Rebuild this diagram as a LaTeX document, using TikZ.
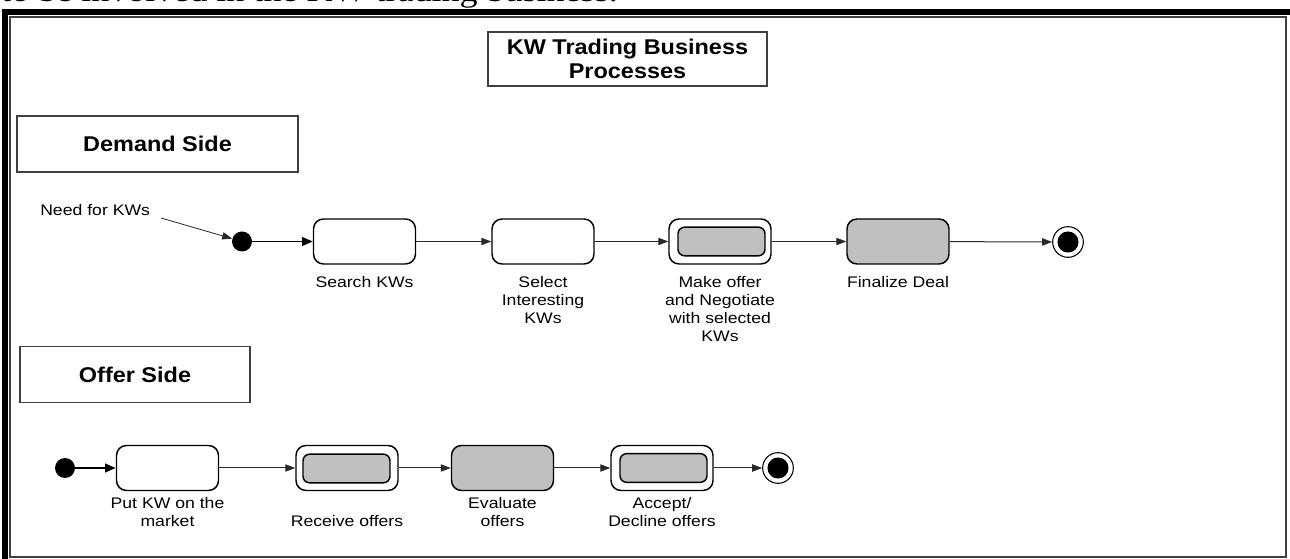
\documentclass[tikz,border=0pt]{standalone}
\usepackage{fontspec}
\setmainfont[FakeStretch=1.15]{Liberation Sans}
\newfontfamily\headfont[FakeStretch=1.1]{Liberation Sans}
\newfontfamily\introfont[FakeStretch=1.15]{Liberation Serif}
\usetikzlibrary{arrows.meta}
\definecolor{actgrey}{RGB}{192,192,192}
\definecolor{edgegrey}{RGB}{64,64,64}
\definecolor{linegrey}{RGB}{40,40,40}
\tikzset{
  actstate/.style={draw,line width=1.1pt,rounded corners=7.5pt,minimum width=76.5pt,minimum height=33.75pt,inner sep=0pt},
  subact/.style={draw,fill=actgrey,line width=1.1pt,rounded corners=5pt,minimum width=65.25pt,minimum height=21.5pt,inner sep=0pt},
  startdot/.style={circle,fill=black,minimum size=15pt,inner sep=0pt},
  enddot/.style={circle,draw,line width=0.8pt,minimum size=23pt,inner sep=0pt},
  headbox/.style={draw=edgegrey,line width=1.4pt,inner sep=0pt,align=center,font=\headfont\bfseries\fontsize{16}{18}\selectfont},
  lbl/.style={inner sep=0pt,anchor=north,align=center,font=\fontsize{11.5}{13.5}\selectfont},
  flow/.style={linegrey,line width=0.75pt,-{Triangle[length=7.5pt,width=5.5pt]}},
  startflow/.style={black,line width=1.4pt,-{Triangle[length=8pt,width=6.5pt]}}
}
\begin{document}
\begin{tikzpicture}[x=0.75pt,y=-0.75pt]
\useasboundingbox (0,0) rectangle (1290,559);
\clip (0,0) rectangle (1290,559);
% Text above the frame (cut off at the top)
\node[anchor=base west,inner sep=0pt,font=\introfont\fontsize{23.5}{26}\selectfont] (intro) at (1,2) {to be involved in the KW trading business.};
% Frame
\draw[line width=4.5pt] (5.3,570) -- (5.3,12) -- (1300,12);
\draw[edgegrey,line width=1.5pt] (10,17.5) rectangle (1285.5,557);

% Headings
\node[headbox,minimum width=209.25pt,minimum height=40.5pt] (title) at (627.5,59) {KW Trading Business\\Processes};
\node[headbox,minimum width=210.75pt,minimum height=42pt] (demand) at (157.5,144) {Demand Side};
\node[headbox,minimum width=172.5pt,minimum height=42pt] (offer) at (135,374.5) {Offer Side};

% Demand side
\node[anchor=base west,inner sep=0pt,font=\fontsize{11.5}{13.5}\selectfont] (need) at (40,216) {Need for KWs};
\coordinate (needtail) at (161,218);
\node[startdot] (start1) at (242,241.5) {};
\node[actstate] (search) at (364.5,241.5) {};
\node[actstate] (select) at (543,241.5) {};
\node[actstate] (make) at (720,241.5) {};
\node[subact] (makein) at (721.5,241.5) {};
\node[actstate,fill=actgrey] (final) at (898,241.5) {};
\node[enddot] (end1) at (1068,242) {};
\fill (end1) circle (7.9pt);

\draw[flow,line width=0.6pt] (needtail) -- (start1);
\draw[startflow] (start1) -- (search);
\draw[flow] (search) -- (select);
\draw[flow] (select) -- (make);
\draw[flow] (make) -- (final);
\draw[flow] (final) -- (end1);

\node[lbl] (searchlbl) at (364.5,276) {Search KWs};
\node[lbl] (selectlbl) at (543,276) {Select\\Interesting\\KWs};
\node[lbl] (makelbl) at (720,276) {Make offer\\and Negotiate\\with selected\\KWs};
\node[lbl] (finallbl) at (898,276) {Finalize Deal};

% Offer side
\node[startdot] (start2) at (65,468) {};
\node[actstate] (put) at (167.5,468) {};
\node[actstate] (receive) at (347,468) {};
\node[subact] (receivein) at (346.5,468.5) {};
\node[actstate,fill=actgrey] (evaluate) at (502.5,468) {};
\node[actstate] (accept) at (662,468) {};
\node[subact] (acceptin) at (663.5,468) {};
\node[enddot] (end2) at (778,468) {};
\fill (end2) circle (7.9pt);

\draw[startflow] (start2) -- (put);
\draw[flow] (put) -- (receive);
\draw[flow] (receive) -- (evaluate);
\draw[flow] (evaluate) -- (accept);
\draw[flow] (accept) -- (end2);

\node[lbl] (putlbl) at (167.5,497) {Put KW on the\\market};
\node[lbl] (receivelbl) at (347,515) {Receive offers};
\node[lbl] (evaluatelbl) at (502.5,497) {Evaluate\\offers};
\node[lbl] (acceptlbl) at (662,497) {Accept/\\Decline offers};
\end{tikzpicture}
\end{document}
